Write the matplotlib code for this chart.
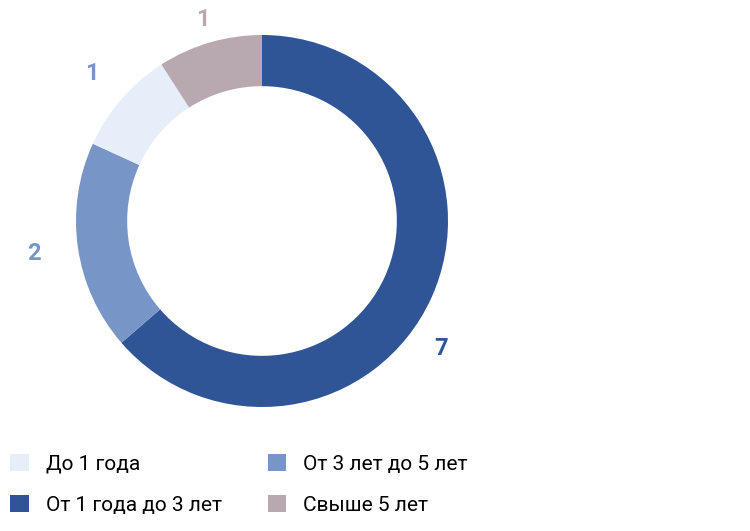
import matplotlib.pyplot as plt
from matplotlib.patches import Patch
import numpy as np

plt.rcParams["font.family"] = ["Roboto", "DejaVu Sans"]

# data (clockwise from 12 o'clock)
slice_names = ["От 1 года до 3 лет", "От 3 лет до 5 лет", "До 1 года", "Свыше 5 лет"]
slice_values = [7, 2, 1, 1]
slice_colors = ["#2f5597", "#7795c6", "#e6eef9", "#b8a9b0"]
label_colors = ["#2f5597", "#7795c6", "#7795c6", "#b8a9b0"]
# label placement: shift from wedge middle (deg), radius
label_shift = [-11, 0, 0, 0]
label_radius = [1.18, 1.24, 1.21, 1.13]

legend_order = ["До 1 года", "От 1 года до 3 лет", "От 3 лет до 5 лет", "Свыше 5 лет"]

fig = plt.figure(figsize=(7.5, 5.31), dpi=100)
ax = fig.add_axes([62 / 750, 110 / 531, 400 / 750, 400 / 531])

wedges, _ = ax.pie(slice_values, colors=slice_colors, startangle=90,
                   counterclock=False, radius=1,
                   wedgeprops=dict(width=0.275, linewidth=0))
lim = 200 / 186
ax.set_xlim(-lim, lim)
ax.set_ylim(-lim, lim)
ax.set_aspect("equal")
ax.axis("off")

for w, v, c, sh, r in zip(wedges, slice_values, label_colors, label_shift, label_radius):
    mid = np.deg2rad((w.theta1 + w.theta2) / 2 + sh)
    ax.text(r * np.cos(mid), r * np.sin(mid), str(v), color=c,
            fontsize=17, fontweight="bold", ha="center", va="center")

handles = [Patch(facecolor=slice_colors[slice_names.index(n)], edgecolor="none", label=n)
           for n in legend_order]
fig.legend(handles=handles, ncol=2, loc="upper left", bbox_to_anchor=(2 / 750, 0.161),
           frameon=False, fontsize=15, handlelength=0.9, handleheight=0.9,
           handletextpad=0.8, columnspacing=2.2, labelspacing=1.02,
           borderaxespad=0.0)

fig.savefig("out.png", dpi=100)
